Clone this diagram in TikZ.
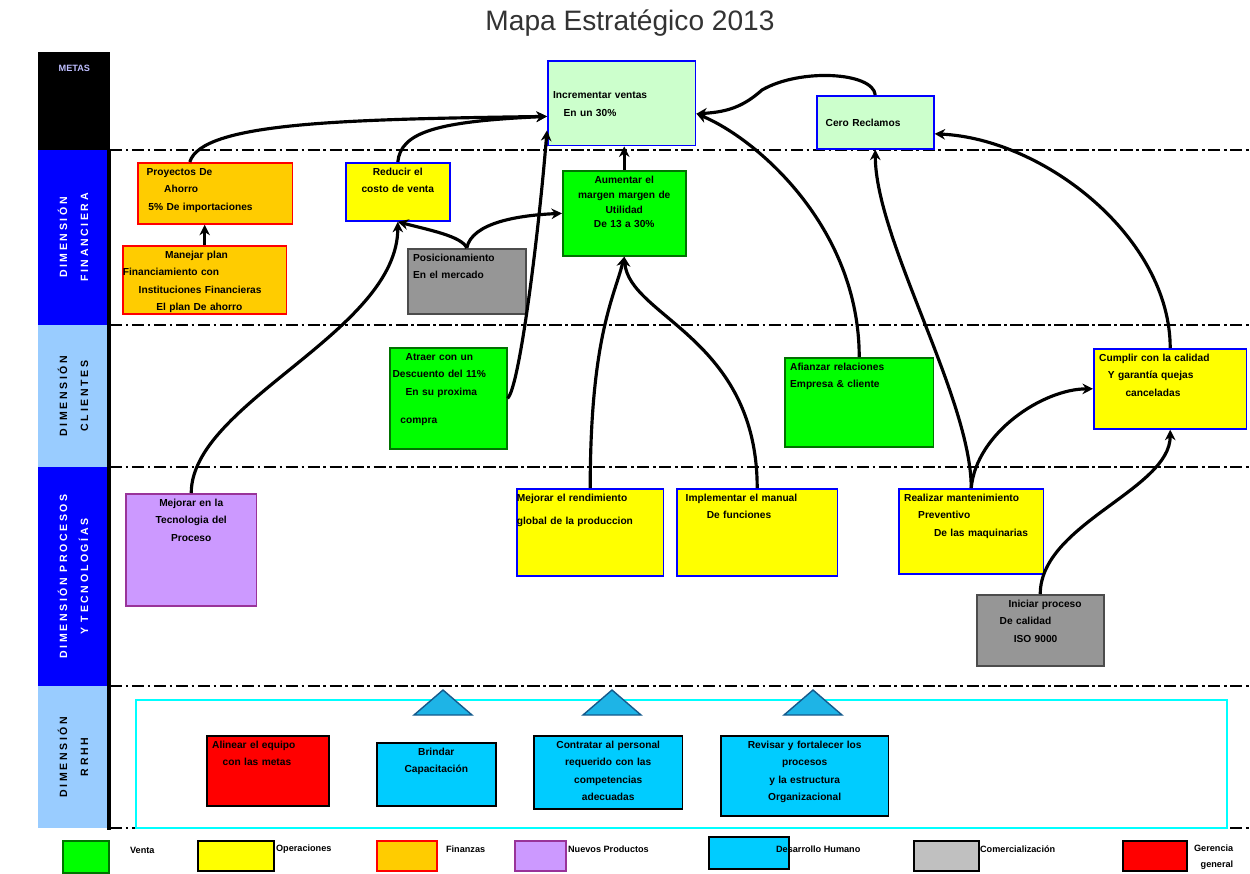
\documentclass[tikz,border=0pt]{standalone}
\usepackage{fontspec}
\setmainfont{Liberation Sans}
\newfontfamily\colfam[LetterSpace=25]{Liberation Sans}
\usetikzlibrary{arrows.meta, calc, positioning}

\newcommand{\cajafont}{\fontsize{5.8}{10}\selectfont\bfseries}
\newcommand{\colfont}{\colfam\fontsize{6}{12}\selectfont\bfseries}
\newcommand{\leyfont}{\fontsize{5.2}{9}\selectfont\bfseries}

\definecolor{verdev}{RGB}{0,255,0}
\definecolor{verdecl}{RGB}{204,255,204}
\definecolor{amarillo}{RGB}{255,255,0}
\definecolor{naranja}{RGB}{255,204,0}
\definecolor{lila}{RGB}{204,153,255}
\definecolor{morado}{RGB}{153,51,153}
\definecolor{celeste}{RGB}{0,204,255}
\definecolor{grisosc}{RGB}{150,150,150}
\definecolor{grisclaro}{RGB}{192,192,192}
\definecolor{rojo}{RGB}{255,0,0}
\definecolor{azulcol}{RGB}{0,0,255}
\definecolor{azulcl}{RGB}{153,204,255}
\definecolor{cianfr}{RGB}{0,255,255}
\definecolor{triazul}{RGB}{30,180,230}
\definecolor{tribord}{RGB}{20,90,140}

\tikzset{
    szt/.code 2 args={\pgfmathsetmacro\boxw{#1*0.567-7}\pgfmathsetmacro\boxd{#2*0.567-10}%
        \edef\boxtmp{\noexpand\tikzset{text width=\boxw pt, text depth=\boxd pt}}\boxtmp},
    szm/.code 2 args={\pgfmathsetmacro\boxw{#1*0.567-7}\pgfmathsetmacro\boxh{#2*0.567}%
        \edef\boxtmp{\noexpand\tikzset{text width=\boxw pt, minimum height=\boxh pt}}\boxtmp},
    caja/.style={draw, line width=1pt, anchor=north west, inner xsep=3pt, inner ysep=2pt,
        text height=5pt, font=\cajafont, align=left},
    venta/.style={caja, fill=verdev, draw=green!45!black},
    meta/.style={caja, fill=verdecl, draw=blue},
    opera/.style={caja, fill=amarillo, draw=blue},
    finan/.style={caja, fill=naranja, draw=red},
    nuevo/.style={caja, fill=lila, draw=morado},
    comer/.style={caja, fill=grisosc, draw=black!70},
    desa/.style={caja, fill=celeste, draw=black},
    geren/.style={caja, fill=rojo, draw=black},
    celda/.style={inner sep=0pt, rotate=90, align=center, font=\colfont},
    ley/.style={anchor=west, inner sep=1pt, font=\leyfont, align=left},
    flecha/.style={line width=1.8pt, -{Stealth[length=6pt,width=6pt]}},
    divisor/.style={line width=1.1pt, dash pattern=on 7pt off 2pt on 1.5pt off 2pt},
    tri/.style={fill=triazul, draw=tribord, line width=0.8pt}
}

\begin{document}
\begin{tikzpicture}[x=0.02cm, y=-0.02cm]
    \useasboundingbox (0,0) rectangle (1250,873);

    \node[font=\fontsize{16}{18}\selectfont, text=black!80] (titulo) at (630,23) {Mapa Estratégico 2013};

    \node[fill=black, anchor=north west, inner sep=0pt, minimum width=1.44cm, text height=11pt, text depth=44.6pt,
        font=\leyfont, text=blue!25!white] (metas) at (38,52) {METAS};
    \node[celda, fill=azulcol, text=white, minimum width=3.5cm, minimum height=1.4cm] (dfin) at (73,237.5) {DIMENSIÓN\\FINANCIERA};
    \node[celda, fill=azulcl, minimum width=2.84cm, minimum height=1.4cm] (dcli) at (73,396) {DIMENSIÓN\\CLIENTES};
    \node[celda, fill=azulcol, text=white, minimum width=4.38cm, minimum height=1.4cm] (dproc) at (73,576.5) {DIMENSIÓN PROCESOS\\Y TECNOLOGÍAS};
    \node[celda, fill=azulcl, minimum width=2.84cm, minimum height=1.4cm] (drrhh) at (73,757) {DIMENSIÓN\\RRHH};
    \draw[line width=1.8pt] (109,150) -- (109,830);
    \foreach \yy in {150,325,467,686,828}
        \draw[divisor] (110,\yy) -- (1250,\yy);

    \draw[cianfr, line width=1.3pt] (136,700) rectangle (1227,828);
    \foreach \tx in {443,612,813}
        \draw[tri] (\tx-29,715) -- (\tx,690) -- (\tx+29,715) -- cycle;

    \node[meta, szm={150}{85}] (incventas) at (547,60) {Incrementar ventas\\\hspace{6pt}En un 30\%};
    \node[meta, szm={119}{53}] (cero) at (816,95) {\hspace{2pt}Cero Reclamos};

    \node[finan, szt={157}{63}] (proyectos) at (137,162) {\hspace{2pt}Proyectos De\\\hspace{12pt}Ahorro\\\hspace{3pt}5\% De importaciones};
    \node[finan, szt={166}{70}] (manejar) at (122,245) {\hspace{21pt}Manejar plan\\\hspace{-3pt}Financiamiento con\\\hspace{6pt}Instituciones Financieras\\\hspace{16pt}El plan De ahorro};
    \node[opera, szt={106}{60}, align=center] (reducir) at (345,162) {Reducir el\\costo de venta};
    \node[comer, szt={120}{67}] (posicion) at (407,248) {Posicionamiento\\En el mercado};
    \node[venta, szt={125}{87}, align=center] (aumentar) at (562,170) {Aumentar el\\[-1.5pt]margen margen de\\[-1.5pt]Utilidad\\[-1.5pt]De 13 a 30\%};

    \node[venta, szt={119}{103}] (atraer) at (389,347) {\hspace{6pt}Atraer con un\\\hspace{-1.5pt}Descuento del 11\%\\\hspace{6pt}En su proxima\\[6pt]\hspace{3pt}compra};
    \node[venta, szt={151}{91}] (afianzar) at (784,357) {Afianzar relaciones\\Empresa \& cliente};
    \node[opera, szt={155}{82}] (cumplir) at (1093,348) {Cumplir con la calidad\\\hspace{5pt}Y garantía quejas\\\hspace{15pt}canceladas};

    \node[nuevo, szt={133}{114}, align=center] (tecnologia) at (125,493) {Mejorar en la\\Tecnologia del\\Proceso};
    \node[opera, szt={149}{89}] (rendimiento) at (516,488) {\hspace{-3pt}Mejorar el rendimiento\\[3pt]\hspace{-3pt}global de la produccion};
    \node[opera, szt={163}{89}] (implementar) at (676,488) {\hspace{2pt}Implementar el manual\\\hspace{14pt}De funciones};
    \node[opera, szt={147}{87}] (realizar) at (898,488) {Realizar mantenimiento\\\hspace{8pt}Preventivo\\\hspace{17pt}De las maquinarias};
    \node[comer, szt={129}{73}] (iniciar) at (976,594) {\hspace{15pt}Iniciar proceso\\\hspace{10pt}De calidad\\\hspace{18pt}ISO 9000};

    \node[geren, szt={124}{72}] (alinear) at (206,735) {Alinear el equipo\\\hspace{6pt}con las metas};
    \node[desa, szt={121}{65}, align=center] (brindar) at (376,742) {Brindar\\Capacitación};
    \node[desa, szt={151}{75}, align=center] (contratar) at (533,735) {Contratar al personal\\requerido con las\\competencias\\adecuadas};
    \node[desa, szt={170}{82}, align=center] (revisar) at (720,735) {Revisar y fortalecer los\\procesos\\y la estructura\\Organizacional};

    \draw[flecha] (proyectos.129) .. controls +(12,-40) and +(-200,3) .. (incventas.190);
    \draw[flecha] (reducir.north) .. controls +(3,-30) and +(-110,5) .. (incventas.190);
    \draw[flecha] (atraer.east) .. controls +(12,-10) and +(-8,100) .. (incventas.200);
    \draw[flecha] (aumentar.north) -- (aumentar.north |- incventas.south);
    \draw[flecha] (cero.north) .. controls (873,72) and (800,68) .. (762,90) .. controls (745,105) and (730,112) .. (incventas.352);
    \draw[flecha] (afianzar.north) .. controls +(0,-130) and +(60,25) .. (incventas.352);
    \draw[flecha] (realizar.north) .. controls +(0,-90) and +(0,90) .. (cero.south);
    \draw[flecha] (cumplir.north) .. controls +(0,-110) and +(110,5) .. (cero.349);
    \draw[flecha] (manejar.north) -- (manejar.north |- proyectos.south);
    \draw[flecha] (tecnologia.north) .. controls +(0,-90) and +(0,110) .. (reducir.south);
    \draw[flecha] (posicion.north) .. controls +(-5,-12) and +(30,8) .. (reducir.south);
    \draw[flecha] (posicion.north) .. controls +(5,-25) and +(-45,2) .. (aumentar.west);
    \draw[flecha] (rendimiento.north) .. controls +(0,-150) and +(-10,40) .. (aumentar.south);
    \draw[flecha] (implementar.north) .. controls +(0,-150) and +(5,60) .. (aumentar.south);
    \draw[flecha] (realizar.north) .. controls +(5,-55) and +(-50,0) .. (cumplir.west);
    \draw[flecha] (iniciar.north) .. controls +(0,-70) and +(0,60) .. (cumplir.south);

    \node[venta, szm={48}{32}] (lgventa) at (62,840) {};
    \node[ley] (lbventa) at (128,850) {Venta};
    \node[caja, fill=amarillo, draw=black, szm={78}{30}] (lgopera) at (197,840) {};
    \node[ley] (lbopera) at (274,849) {Operaciones};
    \node[finan, szm={62}{30}] (lgfinan) at (376,840) {};
    \node[ley] (lbfinan) at (444,849) {Finanzas};
    \node[nuevo, szm={53}{30}] (lgnuevo) at (514,840) {};
    \node[ley] (lbnuevo) at (566,849) {Nuevos Productos};
    \node[desa, line width=1.4pt, szm={82}{32}] (lgdesa) at (708,836) {};
    \node[ley] (lbdesa) at (774,849) {Desarrollo Humano};
    \node[caja, fill=grisclaro, draw=black, szm={67}{30}] (lgcomer) at (913,840) {};
    \node[ley] (lbcomer) at (978,849) {Comercialización};
    \node[geren, szm={66}{30}] (lggeren) at (1122,840) {};
    \node[ley, align=right] (lbgeren) at (1192,857) {Gerencia\\general};
\end{tikzpicture}
\end{document}
